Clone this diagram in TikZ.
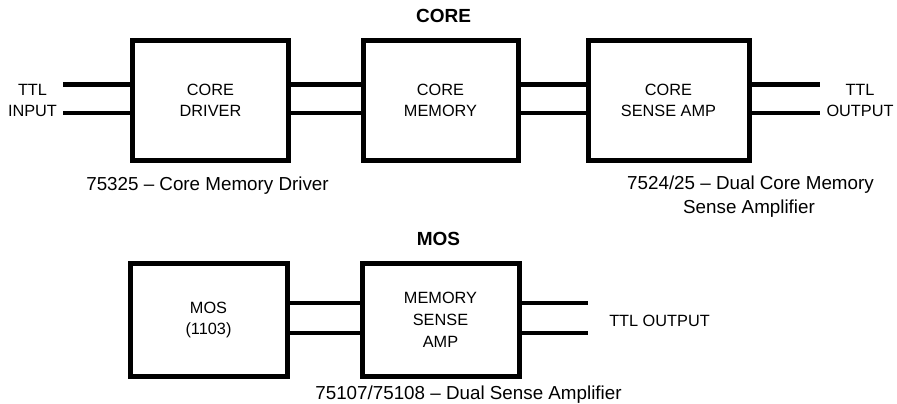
\documentclass[tikz,border=0pt]{standalone}
\usepackage{fontspec}
\setmainfont{Liberation Sans}
\newcommand\bxfont{\fontsize{16.3}{21}\selectfont}
\newcommand\cpfont{\fontsize{18.8}{22}\selectfont}
\newcommand\hdfont{\fontsize{19}{22}\selectfont\bfseries}
\begin{document}
\begin{tikzpicture}[x=1pt,y=-1pt,
  blk/.style={draw, line width=5pt, align=center, font=\bxfont, inner sep=0pt},
  wire/.style={line width=4.3pt},
  lbl/.style={align=center, font=\bxfont, inner sep=0pt},
  capt/.style={font=\cpfont, inner sep=0pt, anchor=base},
  hd/.style={font=\hdfont, inner sep=0pt, anchor=base}]
\useasboundingbox[fill=white] (0,0) rectangle (897,404);

% titles
\node[hd] (coretitle) at (443.5,22.7) {CORE};
\node[hd] (mostitle) at (438.5,245) {MOS};

% core row
\node[blk, minimum width=156pt, minimum height=119pt] (drv) at (210.5,100.5) {CORE\\DRIVER};
\node[blk, minimum width=155pt, minimum height=119pt] (mem) at (440.5,100.5) {CORE\\MEMORY};
\node[blk, minimum width=161pt, minimum height=119pt] (amp) at (668.5,100.5) {CORE\\SENSE AMP};

% mos row
\node[blk, minimum width=157pt, minimum height=113pt] (mosbox) at (208.5,319.5) {MOS\\(1103)};
\node[blk, minimum width=157pt, minimum height=113pt, font=\fontsize{16.3}{22}\selectfont] (msa) at (440.5,319.5) {MEMORY\\SENSE\\AMP};

% rows and free ends
\coordinate (ra) at (0,84.5);
\coordinate (rb) at (0,113);
\coordinate (rc) at (0,303);
\coordinate (rd) at (0,333);
\coordinate (inA) at (63,84.5);
\coordinate (inB) at (63,113);
\coordinate (outA) at (820,84.5);
\coordinate (outB) at (820,113);
\coordinate (moA) at (588,303);
\coordinate (moB) at (588,333);

% connectors
\draw[wire] (inA) -- (inA -| drv.west);
\draw[wire] (inB) -- (inB -| drv.west);
\draw[wire] (drv.east |- ra) -- (mem.west |- ra);
\draw[wire] (drv.east |- rb) -- (mem.west |- rb);
\draw[wire] (mem.east |- ra) -- (amp.west |- ra);
\draw[wire] (mem.east |- rb) -- (amp.west |- rb);
\draw[wire] (amp.east |- outA) -- (outA);
\draw[wire] (amp.east |- outB) -- (outB);
\draw[wire] (mosbox.east |- rc) -- (msa.west |- rc);
\draw[wire] (mosbox.east |- rd) -- (msa.west |- rd);
\draw[wire] (msa.east |- moA) -- (moA);
\draw[wire] (msa.east |- moB) -- (moB);

% labels
\node[lbl] (tin) at (32.5,100.5) {TTL\\INPUT};
\node[lbl] (tout) at (860,100.5) {TTL\\OUTPUT};
\node[lbl] (mout) at (659.5,321) {TTL OUTPUT};

% captions
\node[capt] (c1) at (207.5,190) {75325 – Core Memory Driver};
\node[capt, anchor=base west] (c2) at (627,189) {7524/25 – Dual Core Memory};
\node[capt, anchor=base west] (c3) at (683,213) {Sense Amplifier};
\node[capt] (c4) at (468.5,399.5) {75107/75108 – Dual Sense Amplifier};
\end{tikzpicture}
\end{document}
